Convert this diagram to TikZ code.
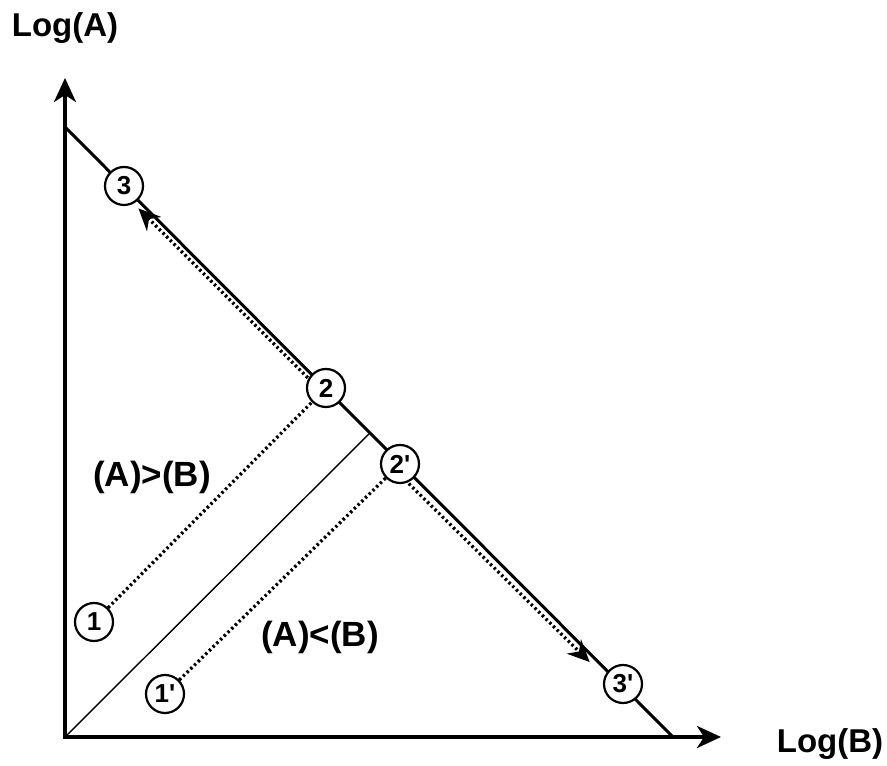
\documentclass[tikz,border=0pt]{standalone}
\usepackage{fontspec}
\setmainfont{Liberation Sans}
\usetikzlibrary{arrows.meta,calc}
\tikzset{
  axisline/.style={line width=3.5pt,
    {Stealth[length=24pt,width=22pt,inset=7pt]}-{Stealth[length=24pt,width=22pt,inset=7pt]}},
  diagline/.style={line width=3pt},
  eqline/.style={line width=1.4pt},
  pnt/.style={circle,draw,line width=2.2pt,fill=white,minimum size=38pt,inner sep=0pt,
    font=\fontsize{26}{26}\selectfont\bfseries},
  dotl/.style={line width=3.3pt,dash pattern=on 2.4pt off 2.8pt},
  dotarr/.style={dotl,-{Stealth[length=22pt,width=20pt,inset=7pt]}},
  axlab/.style={font=\fontsize{33}{33}\selectfont\bfseries,anchor=base},
  cmplab/.style={font=\fontsize{35}{35}\selectfont\bfseries,anchor=base},
}
\begin{document}
\begin{tikzpicture}[x=1pt,y=1pt]
  \useasboundingbox (0,0) rectangle (887,766);
  % axes
  \coordinate (o) at (65,29);
  \coordinate (ytop) at (65,688);
  \coordinate (xend) at (721,29);
  \draw[axisline] (ytop) -- (o) -- (xend);
  \node[axlab] (labA) at (65,729) {Log(A)};
  \node[axlab] (labB) at (830,13) {Log(B)};
  % lines
  \coordinate (da) at (65,639);
  \coordinate (db) at (673,29);
  \draw[diagline] (da) -- (db);
  \coordinate (foot) at ($(da)!(o)!(db)$);
  \draw[eqline] (o) -- (foot);
  % points
  \node[pnt] (n3) at (124,580) {3};
  \node[pnt] (n2) at (326,378) {2};
  \node[pnt] (n2p) at (400,302) {2\textquotesingle};
  \node[pnt] (n3p) at (623,82) {3\textquotesingle};
  \node[pnt] (n1) at (94,144) {1};
  \node[pnt] (n1p) at (165,72) {1\textquotesingle};
  % paths
  \draw[dotl] (n1) -- (n2);
  \draw[dotl] (n1p) -- (n2p);
  \draw[dotarr,shorten >=6pt,transform canvas={shift={(-4,-4)}}] (n2) -- (n3);
  \draw[dotarr,shorten >=19pt,transform canvas={shift={(-5.5,-5.5)}}] (n2p) -- (n3p);
  \node[cmplab] (gtlab) at (152,279) {(A)>(B)};
  \node[cmplab] (ltlab) at (320,119) {(A)<(B)};
\end{tikzpicture}
\end{document}
